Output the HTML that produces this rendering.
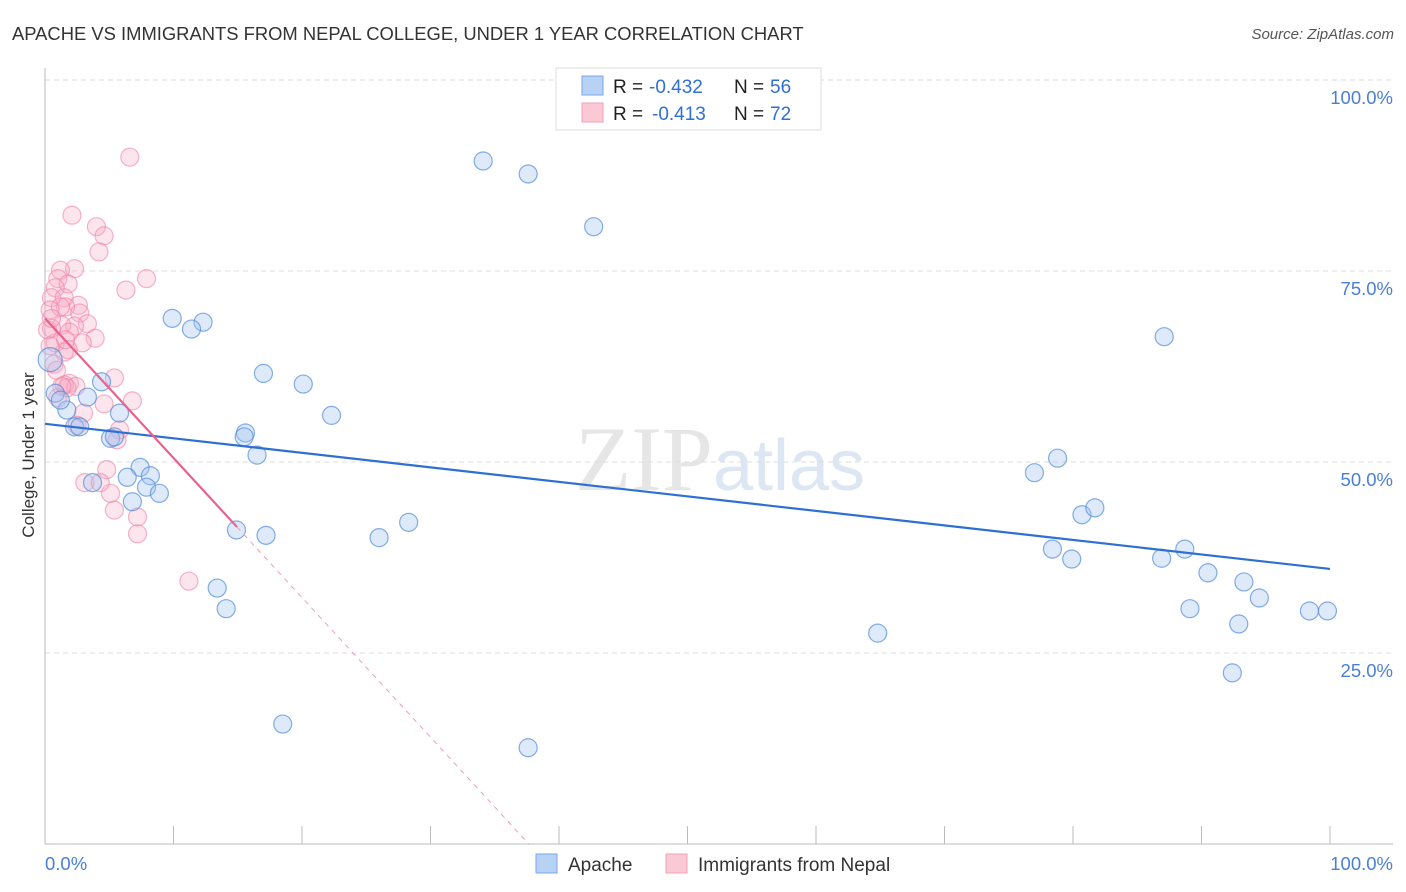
<!DOCTYPE html>
<html><head><meta charset="utf-8">
<style>
body{margin:0;background:#fff;font-family:"Liberation Sans",sans-serif;}
#c{position:relative;width:1406px;height:892px;overflow:hidden;}
</style></head>
<body>
<div id="c">
<svg id="s" width="1406" height="892" xmlns="http://www.w3.org/2000/svg">
<text x="12" y="40" font-size="18.4" fill="#333">APACHE VS IMMIGRANTS FROM NEPAL COLLEGE, UNDER 1 YEAR CORRELATION CHART</text>
<text x="1394" y="39" font-size="15" fill="#555" font-style="italic" text-anchor="end">Source: ZipAtlas.com</text>
<text x="720" y="490" font-size="92" fill="#e6e6e6" text-anchor="middle" font-family="Liberation Serif,serif">ZIP<tspan fill="#dde6f3" font-family="Liberation Sans,sans-serif" font-size="72">atlas</tspan></text>
<g id="grid"></g>
<g id="pts"></g>
<g id="trend"></g>
<text x="34" y="455" font-size="17" fill="#333" text-anchor="middle" transform="rotate(-90 34 455)">College, Under 1 year</text>
<g>
<rect x="556" y="68" width="265" height="62" fill="#fff" stroke="#ddd"/>
<rect x="582" y="76" width="21" height="19" fill="#b8d2f5" stroke="#7aa7e6"/>
<rect x="582" y="103" width="21" height="19" fill="#fbc8d6" stroke="#f2a0b8"/>
<text x="613" y="93" font-size="19" fill="#222">R =</text>
<text x="649" y="93" font-size="19" fill="#2f6fd6">-0.432</text>
<text x="734" y="93" font-size="19" fill="#222">N =</text>
<text x="770" y="93" font-size="19" fill="#2f6fd6">56</text>
<text x="613" y="120" font-size="19" fill="#222">R =</text>
<text x="652" y="120" font-size="19" fill="#2f6fd6">-0.413</text>
<text x="734" y="120" font-size="19" fill="#222">N =</text>
<text x="770" y="120" font-size="19" fill="#2f6fd6">72</text>
</g>
<g>
<rect x="536" y="854" width="21" height="19" fill="#b8d2f5" stroke="#7aa7e6"/>
<text x="568" y="871" font-size="19" fill="#333">Apache</text>
<rect x="666" y="854" width="21" height="19" fill="#fbc8d6" stroke="#f2a0b8"/>
<text x="698" y="871" font-size="19" fill="#333">Immigrants from Nepal</text>
</g>
</svg>
</div>
<script>
const apacheX=[34.1,37.6,42.7,9.9,12.3,11.4,17.0,20.1,22.3,4.4,3.3,5.8,1.7,0.8,2.3,2.7,5.1,5.4,7.4,15.6,15.5,16.5,6.4,8.2,7.9,8.9,3.7,6.8,14.9,17.2,13.4,14.1,26.0,28.3,18.5,37.6,64.8,87.1,77.0,78.8,80.7,81.7,78.4,79.9,86.9,88.7,90.5,89.1,93.3,94.5,92.9,92.4,98.4,99.8,1.2,0.4];
const apacheY=[89.4,87.7,80.8,68.8,68.3,67.4,61.6,60.2,56.1,60.5,58.5,56.4,56.8,59.0,54.6,54.6,53.1,53.3,49.3,53.8,53.3,50.9,48.0,48.2,46.7,45.9,47.3,44.8,41.1,40.4,33.5,30.8,40.1,42.1,15.7,12.6,27.6,66.4,48.6,50.5,43.1,44.0,38.6,37.3,37.4,38.6,35.5,30.8,34.3,32.2,28.8,22.4,30.5,30.5,58.1,63.4];
const nepalX=[6.6,2.1,4.0,4.6,4.2,6.3,7.9,2.3,1.2,1.0,1.8,0.8,0.5,1.5,2.6,1.6,1.2,0.4,2.7,3.3,2.3,1.3,0.5,1.9,3.9,2.9,0.8,1.8,1.5,0.4,0.7,5.4,1.9,1.5,2.4,1.7,1.3,1.0,4.6,3.0,6.8,2.5,5.8,5.6,4.8,5.1,3.1,4.3,5.4,7.2,7.2,11.2,0.9,0.2,0.5,1.6];
const nepalY=[89.9,82.3,80.8,79.6,77.5,72.5,74.0,75.3,75.1,74.0,73.3,72.8,71.5,71.5,70.5,70.3,70.3,69.9,69.5,68.1,67.8,67.9,67.5,67.0,66.2,65.6,65.6,64.7,64.4,65.2,62.8,61.0,60.3,60.1,59.9,59.7,59.9,58.4,57.6,56.4,58.0,54.8,54.2,52.9,49.0,45.9,47.3,47.3,43.7,42.8,40.6,34.4,62.0,67.3,68.8,66.0];
const apacheTrend=[55.0,36.0];
const nepalTrend=[68.8,41.5,14.94];
const yTicks=[100,75,50,25];
const yTickLabels=["100.0%","75.0%","50.0%","25.0%"];
const xs=v=>45+v*12.85, ys=v=>844-v*7.64;
const NS="http://www.w3.org/2000/svg";
function mk(t,a,p){const e=document.createElementNS(NS,t);for(const k in a)e.setAttribute(k,a[k]);p.appendChild(e);return e;}
const g=document.getElementById('grid');
yTicks.forEach((v,i)=>{
 const l=mk('line',{x1:45,x2:1393,y1:ys(v),y2:ys(v),stroke:'#ddd','stroke-dasharray':'5,4'},g);
 
 
 const t=mk('text',{x:1393,y:ys(v)+24,'font-size':18.5,fill:'#4a7fd6','text-anchor':'end'},g);
 t.textContent=yTickLabels[i];
 
 
});
let ax=mk('line',{x1:45,x2:45,y1:68,y2:844,stroke:'#bbb'},g);


ax=mk('line',{x1:45,x2:1393,y1:844,y2:844,stroke:'#bbb'},g);


for(let i=0;i<=10;i++){const t=mk('line',{x1:xs(i*10),x2:xs(i*10),y1:826,y2:844,stroke:'#bbb'},g);
 
 }
let t=mk('text',{x:45,y:870,'font-size':18.5,fill:'#4a7fd6'},g);t.textContent='0.0%';


t=mk('text',{x:1393,y:870,'font-size':18.5,fill:'#4a7fd6','text-anchor':'end'},g);t.textContent='100.0%';


const p=document.getElementById('pts');
nepalX.forEach((x,i)=>{const c=mk('circle',{cx:xs(x),cy:ys(nepalY[i]),r:9,fill:'rgba(248,170,195,0.3)',stroke:'rgba(238,130,165,0.6)','stroke-width':1.2},p);
 
 });
apacheX.forEach((x,i)=>{const c=mk('circle',{cx:xs(x),cy:ys(apacheY[i]),r:(i==apacheX.length-1?12:9),fill:'rgba(160,195,240,0.35)',stroke:'rgba(80,140,220,0.7)','stroke-width':1.2},p);
 
 });
const tr=document.getElementById('trend');
let l=mk('line',{x1:xs(0),y1:ys(apacheTrend[0]),x2:xs(100),y2:ys(apacheTrend[1]),stroke:'#2e6fd4','stroke-width':2.2},tr);


const sl=(nepalTrend[1]-nepalTrend[0])/nepalTrend[2], x0=-nepalTrend[0]/sl;
l=mk('line',{x1:xs(0),y1:ys(nepalTrend[0]),x2:xs(nepalTrend[2]),y2:ys(nepalTrend[1]),stroke:'#e8628f','stroke-width':2.2},tr);


l=mk('line',{x1:xs(nepalTrend[2]),y1:ys(nepalTrend[1]),x2:xs(x0),y2:ys(0),stroke:'#eaa0b8','stroke-width':1,'stroke-dasharray':'5,5'},tr);


</script>
</body></html>
